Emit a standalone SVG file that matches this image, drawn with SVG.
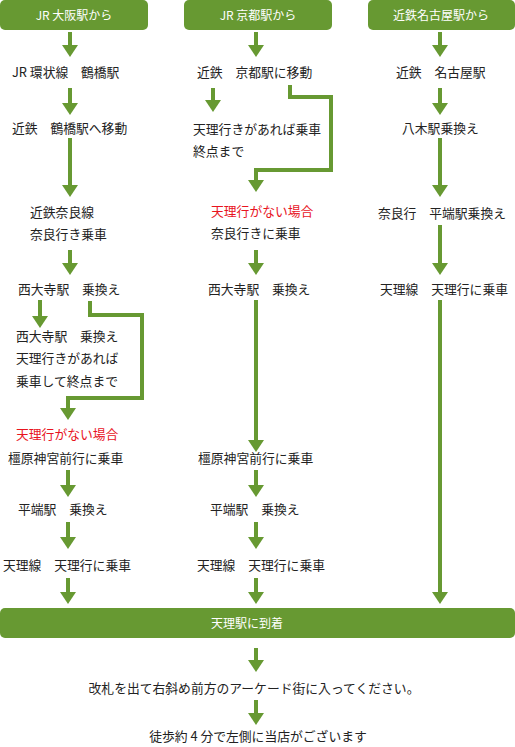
<svg xmlns="http://www.w3.org/2000/svg" width="515" height="747" viewBox="0 0 515 747">
<style>
.hd{fill:#679932}
.ht{fill:#fff;font-family:"Noto Sans CJK JP","Liberation Sans",sans-serif;font-size:12px;text-anchor:middle}
.t{fill:#222;font-family:"Noto Sans CJK JP","Liberation Sans",sans-serif;font-size:12.8px}
.r{fill:#e8141e}
.c{text-anchor:middle}
.ln{stroke:#679932;stroke-width:4;fill:none;marker-end:url(#ah)}
</style>
<defs>
<marker id="ah" viewBox="0 0 12 16" refX="0" refY="8" markerWidth="12" markerHeight="16" markerUnits="userSpaceOnUse" orient="auto">
<path d="M0,0 L12,8 L0,16 Z" fill="#679932"/>
</marker>
</defs>
<rect width="515" height="747" fill="#fff"/>
<g id="h1"><rect class="hd" x="0" y="0" width="148" height="30" rx="5"/><text class="ht" x="74" y="20">JR 大阪駅から</text></g>
<g id="h2"><rect class="hd" x="184" y="0" width="148" height="30" rx="5"/><text class="ht" x="258" y="20">JR 京都駅から</text></g>
<g id="h3"><rect class="hd" x="368" y="0" width="147" height="30" rx="5"/><text class="ht" x="441" y="20">近鉄名古屋駅から</text></g>
<g id="bar"><rect class="hd" x="0" y="608" width="515" height="30" rx="5"/><text class="ht" x="247" y="628">天理駅に到着</text></g>
<g id="n1a"><text class="t" x="12" y="77">JR 環状線　鶴橋駅</text></g>
<g id="n1b"><text class="t" x="12" y="133">近鉄　鶴橋駅へ移動</text></g>
<g id="n1c"><text class="t" x="30" y="217">近鉄奈良線</text><text class="t" x="30" y="239">奈良行き乗車</text></g>
<g id="n1d"><text class="t" x="18" y="294">西大寺駅　乗換え</text></g>
<g id="n1e"><text class="t" x="16" y="341">西大寺駅　乗換え</text><text class="t" x="16" y="363">天理行きがあれば</text><text class="t" x="16" y="386">乗車して終点まで</text></g>
<g id="n1f"><text class="t r" x="16" y="439">天理行がない場合</text><text class="t" x="8" y="463">橿原神宮前行に乗車</text></g>
<g id="n1g"><text class="t" x="18" y="514">平端駅　乗換え</text></g>
<g id="n1h"><text class="t" x="3" y="570">天理線　天理行に乗車</text></g>
<g id="n2a"><text class="t" x="197" y="77">近鉄　京都駅に移動</text></g>
<g id="n2b"><text class="t" x="193" y="134">天理行きがあれば乗車</text><text class="t" x="193" y="156">終点まで</text></g>
<g id="n2c"><text class="t r" x="211" y="216">天理行がない場合</text><text class="t" x="211" y="238">奈良行きに乗車</text></g>
<g id="n2d"><text class="t" x="208" y="294">西大寺駅　乗換え</text></g>
<g id="n2e"><text class="t" x="198" y="463">橿原神宮前行に乗車</text></g>
<g id="n2f"><text class="t" x="210" y="514">平端駅　乗換え</text></g>
<g id="n2g"><text class="t" x="197" y="570">天理線　天理行に乗車</text></g>
<g id="n3a"><text class="t" x="396" y="77">近鉄　名古屋駅</text></g>
<g id="n3b"><text class="t" x="402" y="133">八木駅乗換え</text></g>
<g id="n3c"><text class="t" x="378" y="218">奈良行　平端駅乗換え</text></g>
<g id="n3d"><text class="t" x="380" y="294">天理線　天理行に乗車</text></g>
<g id="n4a"><text class="t c" x="254" y="693">改札を出て右斜め前方のアーケード街に入ってください。</text></g>
<g id="n4b"><text class="t c" x="258" y="741">徒歩約 4 分で左側に当店がございます</text></g>
<g id="connectors">
<path class="ln" d="M70,32 V45"/>
<path class="ln" d="M70,88 V103"/>
<path class="ln" d="M70,138 V185"/>
<path class="ln" d="M70,250 V263"/>
<path class="ln" d="M40,300 V316"/>
<path class="ln" d="M90,301 V315 H142 V398 H68 V408"/>
<path class="ln" d="M68,470 V485"/>
<path class="ln" d="M68,522 V537"/>
<path class="ln" d="M68,578 V592"/>
<path class="ln" d="M256,32 V45"/>
<path class="ln" d="M213,88 V100"/>
<path class="ln" d="M290,85 V97 H331 V170 H256 V180"/>
<path class="ln" d="M256,250 V263"/>
<path class="ln" d="M256,300 V440"/>
<path class="ln" d="M256,470 V485"/>
<path class="ln" d="M256,522 V537"/>
<path class="ln" d="M256,578 V592"/>
<path class="ln" d="M440,32 V45"/>
<path class="ln" d="M440,88 V103"/>
<path class="ln" d="M440,138 V185"/>
<path class="ln" d="M440,225 V263"/>
<path class="ln" d="M440,300 V592"/>
<path class="ln" d="M256,648 V660"/>
<path class="ln" d="M256,700 V713"/>
</g>
</svg>
